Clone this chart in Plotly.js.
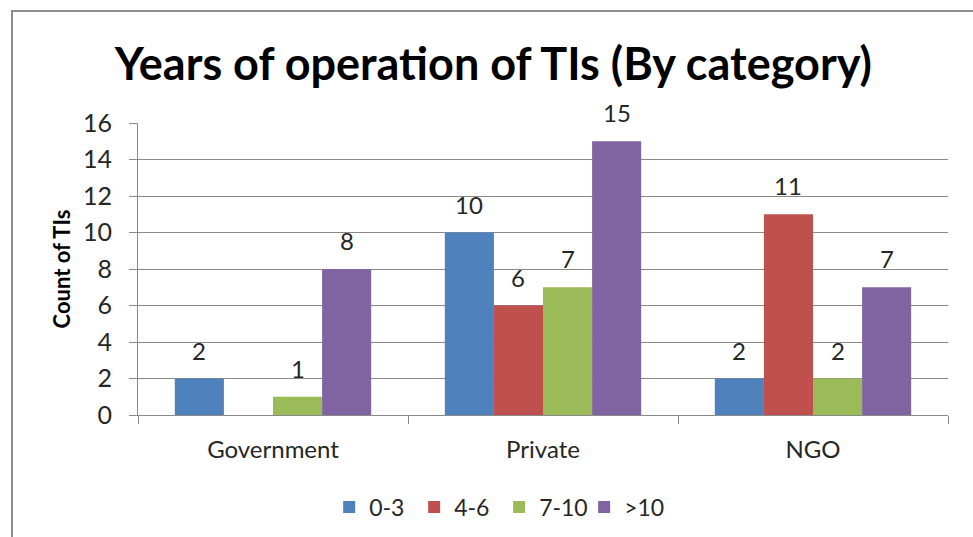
<!DOCTYPE html>
<html>
<head>
<meta charset="utf-8">
<script src="https://cdn.plot.ly/plotly-3.0.1.min.js"></script>
<style>
html,body{margin:0;padding:0;background:#fff;overflow:hidden;}
#wrap{position:relative;width:973px;height:537px;}
#chart{position:absolute;left:0;top:0;width:973px;height:537px;}
#frame{position:absolute;left:11px;top:10px;width:980px;height:560px;border-top:2px solid #8e8e8e;border-left:2px solid #8e8e8e;pointer-events:none;}
</style>
</head>
<body>
<div id="wrap"><div id="chart"></div><div id="frame"></div></div>
<script>
const categories = ['Government', 'Private', 'NGO'];
const seriesNames = ['0-3', '4-6', '7-10', '>10'];
const vals_0_3 = [2, 10, 2];
const vals_4_6 = [0, 6, 11];
const vals_7_10 = [1, 7, 2];
const vals_gt10 = [8, 15, 7];
const yTicks = [0, 2, 4, 6, 8, 10, 12, 14, 16];

const colors = ['#4F81BD', '#C0504D', '#9BBB59', '#8064A2'];
const allVals = [vals_0_3, vals_4_6, vals_7_10, vals_gt10];
const FONT = 'Lato, "Open Sans", sans-serif';
const TXT = '#262626';

const traces = allVals.map((v, i) => ({
  type: 'bar',
  name: seriesNames[i],
  x: categories,
  y: v,
  marker: {color: colors[i]},
  hoverinfo: 'x+y+name'
}));

// data labels placed on the bars' grouped positions (px offset of each series within its group)
const plotW = 973 - 138 - 25;
const bargap = 0.2727;
const barPx = plotW / categories.length * (1 - bargap) / allVals.length;
const annotations = [];
allVals.forEach((v, i) => {
  v.forEach((d, j) => {
    if (d === 0) return;
    annotations.push({
      x: categories[j], y: d, xref: 'x', yref: 'y',
      text: String(d), showarrow: false,
      xanchor: 'center', yanchor: 'bottom',
      xshift: (i - (allVals.length - 1) / 2) * barPx,
      yshift: 12,
      font: {family: FONT, size: 24, color: TXT}
    });
  });
});

const layout = {
  width: 973, height: 537,
  margin: {l: 138, r: 25, t: 123, b: 122},
  paper_bgcolor: '#fff', plot_bgcolor: '#fff',
  font: {family: FONT, color: TXT},
  title: {
    text: '<b>Years of operation of TIs (By category)</b>',
    font: {family: FONT, size: 45, color: '#000'},
    x: 0.507, xanchor: 'center', xref: 'container',
    y: 0.88, yanchor: 'middle', yref: 'container'
  },
  barmode: 'group',
  bargap: bargap,
  bargroupgap: 0,
  showlegend: true,
  legend: {
    orientation: 'h', xref: 'container', yref: 'container',
    x: 0.513, xanchor: 'center', y: 0.056, yanchor: 'middle',
    font: {family: FONT, size: 23, color: TXT},
    itemwidth: 30, tracegroupgap: 0, entrywidth: 40, entrywidthmode: 'pixels'
  },
  annotations: annotations,
  xaxis: {
    type: 'category',
    showline: true, linecolor: '#8a8a8a', linewidth: 1,
    ticks: 'outside', tickson: 'boundaries', ticklen: 8, tickcolor: '#8a8a8a',
    tickfont: {family: FONT, size: 24, color: TXT},
    ticklabelstandoff: 13,
    showgrid: false, zeroline: false, automargin: false
  },
  yaxis: {
    range: [0, 16], tickvals: yTicks,
    showline: true, linecolor: '#8a8a8a', linewidth: 1,
    ticks: 'outside', ticklen: 8, tickcolor: '#8a8a8a',
    tickfont: {family: FONT, size: 25, color: TXT},
    ticklabelstandoff: 12,
    showgrid: true, gridcolor: '#8a8a8a', gridwidth: 1,
    zeroline: false, automargin: false,
    title: {text: '<b>Count of TIs</b>', font: {family: FONT, size: 22, color: '#000'}, standoff: 6}
  }
};

Plotly.newPlot('chart', traces, layout, {displayModeBar: false});
</script>
</body>
</html>
